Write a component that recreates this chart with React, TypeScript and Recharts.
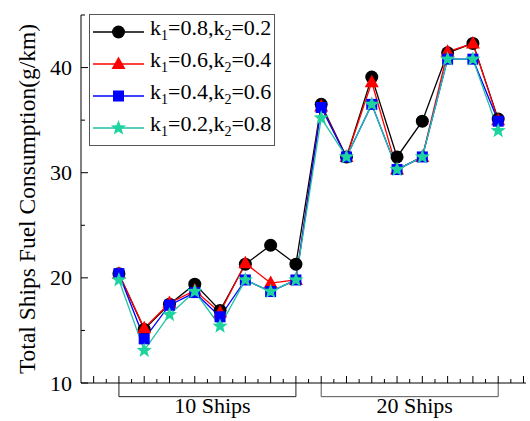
import React from "react"
import {
  LineChart,
  Line,
  XAxis,
  YAxis,
  Legend,
  ReferenceLine,
} from "recharts"

// sample position along the x axis (8 cases for 10 ships, 8 for 20 ships)
const cases = [0, 1, 2, 3, 4, 5, 6, 7, 8, 9, 10, 11, 12, 13, 14, 15]

const k08 = [20.4, 15.1, 17.5, 19.4, 16.9, 21.3, 23.1, 21.3, 36.5, 31.5, 39.1, 31.5, 34.9, 41.4, 42.3, 35.1]
const k06 = [20.4, 15.2, 17.6, 18.8, 16.7, 21.4, 19.5, 19.8, 36.3, 31.5, 38.6, 30.3, 31.5, 41.5, 42.3, 35.0]
const k04 = [20.4, 14.2, 17.4, 18.6, 16.3, 19.8, 18.7, 19.8, 36.2, 31.5, 36.5, 30.3, 31.5, 40.8, 40.8, 34.9]
const k02 = [19.8, 13.1, 16.5, 18.7, 15.4, 19.8, 18.7, 19.8, 35.2, 31.5, 36.5, 30.3, 31.5, 40.8, 40.8, 34.0]

const xTicks = [
  -1, -0.5, 0, 0.5, 1, 1.5, 2, 2.5, 3, 3.5, 4, 4.5, 5, 5.5, 6, 6.5, 7, 7.5, 8,
  8.5, 9, 9.5, 10, 10.5, 11, 11.5, 12, 12.5, 13, 13.5, 14, 14.5, 15, 15.5, 16,
]
const yTicks = [10, 15, 20, 25, 30, 35, 40, 45]

const groups = [
  { name: "10 Ships", from: 0, to: 7, color: "#222" },
  { name: "20 Ships", from: 8, to: 15, color: "#555" },
]

const series = [
  { key: "k08", k1: "0.8", k2: "0.2", color: "#000000", line: "#000000", shape: "circle" },
  { key: "k06", k1: "0.6", k2: "0.4", color: "#ff0000", line: "#ff0000", shape: "triangle" },
  { key: "k04", k1: "0.4", k2: "0.6", color: "#0000ff", line: "#0000ff", shape: "square" },
  { key: "k02", k1: "0.2", k2: "0.8", color: "#1fd39f", line: "#20c2a6", shape: "star" },
]

const data = cases.map((x, i) => ({ x, k08: k08[i], k06: k06[i], k04: k04[i], k02: k02[i] }))

const FONT = '"Liberation Serif", "Times New Roman", serif'

function Marker({ shape, cx, cy, color }: any) {
  if (cx == null || cy == null) return null
  if (shape === "circle") return <circle cx={cx} cy={cy} r={6.5} fill={color} />
  if (shape === "triangle")
    return <polygon points={`${cx},${cy - 7.5} ${cx - 7},${cy + 5} ${cx + 7},${cy + 5}`} fill={color} />
  if (shape === "square") return <rect x={cx - 5.5} y={cy - 5.5} width={11} height={11} fill={color} />
  const pts: string[] = []
  for (let i = 0; i < 10; i++) {
    const r = i % 2 === 0 ? 8 : 3.4
    const a = -Math.PI / 2 + (i * Math.PI) / 5
    pts.push(`${cx + r * Math.cos(a)},${cy + r * Math.sin(a)}`)
  }
  return <polygon points={pts.join(" ")} fill={color} />
}

function XTick(props: any) {
  const { x, y, payload } = props
  const major = Number.isInteger(payload.value)
  return <line x1={x} x2={x} y1={y} y2={y - (major ? 7 : 4)} stroke="#000" />
}

function YTick(props: any) {
  const { x, y, payload } = props
  const major = payload.value % 10 === 0
  return (
    <g>
      <line x1={x} x2={x + (major ? 7 : 4)} y1={y} y2={y} stroke="#000" />
      {major && (
        <text x={x - 9} y={y} textAnchor="end" dominantBaseline="central" fontSize={22} fontFamily={FONT} fill="#000">
          {payload.value}
        </text>
      )}
    </g>
  )
}

function LegendBox() {
  return (
    <div style={{ fontFamily: FONT, fontSize: 22, color: "#000", paddingTop: 1 }}>
      {series.map((s) => (
        <div key={s.key} style={{ height: 32, display: "flex", alignItems: "center" }}>
          <svg width={60} height={20} style={{ flex: "none" }}>
            <line x1={3} x2={54} y1={10} y2={10} stroke={s.line} strokeWidth={1.3} />
            <Marker shape={s.shape} cx={28.5} cy={10} color={s.color} />
          </svg>
          <span style={{ whiteSpace: "nowrap", lineHeight: "22px" }}>
            k<sub style={{ fontSize: 14 }}>1</sub>={s.k1},k<sub style={{ fontSize: 14 }}>2</sub>={s.k2}
          </span>
        </div>
      ))}
    </div>
  )
}

export default function App() {
  return (
    <div style={{ position: "absolute", left: 0, top: 0, background: "#fff" }}>
      <LineChart width={530} height={421} data={data} margin={{ top: 15, right: 4, bottom: 8, left: 25 }}>
        <XAxis
          dataKey="x"
          type="number"
          domain={[-1.5, 16.1]}
          ticks={xTicks}
          interval={0}
          tickSize={0}
          tickMargin={0}
          tickLine={false}
          tick={<XTick />}
          height={30}
          axisLine={{ stroke: "#000" }}
          allowDataOverflow
        />
        <YAxis
          type="number"
          domain={[10, 45]}
          ticks={yTicks}
          interval={0}
          tickSize={0}
          tickMargin={0}
          tickLine={false}
          tick={<YTick />}
          width={56}
          axisLine={{ stroke: "#000" }}
          allowDataOverflow
          label={{
            content: ({ viewBox }: any) => {
              const cx = viewBox.x + 2
              const cy = viewBox.y + viewBox.height / 2
              return (
                <text
                  x={cx}
                  y={cy}
                  transform={`rotate(-90, ${cx}, ${cy})`}
                  textAnchor="middle"
                  dominantBaseline="central"
                  fontSize={23.5}
                  fontFamily={FONT}
                  fill="#000"
                >
                  Total Ships Fuel Consumption(g/km)
                </text>
              )
            },
          }}
        />
        {groups.map((g) => (
          <ReferenceLine
            key={g.name + "l"}
            segment={[{ x: g.from, y: 10 }, { x: g.from, y: 8.7 }]}
            stroke={g.color}
            ifOverflow="visible"
          />
        ))}
        {groups.map((g) => (
          <ReferenceLine
            key={g.name + "r"}
            segment={[{ x: g.to, y: 10 }, { x: g.to, y: 8.7 }]}
            stroke={g.color}
            ifOverflow="visible"
          />
        ))}
        {groups.map((g) => (
          <ReferenceLine
            key={g.name + "b"}
            segment={[{ x: g.from, y: 8.7 }, { x: g.to, y: 8.7 }]}
            stroke={g.color}
            ifOverflow="visible"
            label={{ value: g.name, position: "bottom", offset: 1, dx: 5, fontSize: 22, fontFamily: FONT, fill: "#000" }}
          />
        ))}
        {series.map((s) => (
          <Line
            key={s.key}
            dataKey={s.key}
            stroke={s.line}
            strokeWidth={1.3}
            isAnimationActive={false}
            dot={(p: any) => <Marker key={s.key + p.index} shape={s.shape} cx={p.cx} cy={p.cy} color={s.color} />}
            activeDot={false}
          />
        ))}
        <Legend
          layout="vertical"
          align="center"
          verticalAlign="middle"
          content={() => <LegendBox />}
          wrapperStyle={{
            left: 89,
            top: 14,
            width: 186,
            height: 132,
            border: "1px solid #555",
            background: "#fff",
            boxSizing: "border-box",
          }}
        />
      </LineChart>
    </div>
  )
}
